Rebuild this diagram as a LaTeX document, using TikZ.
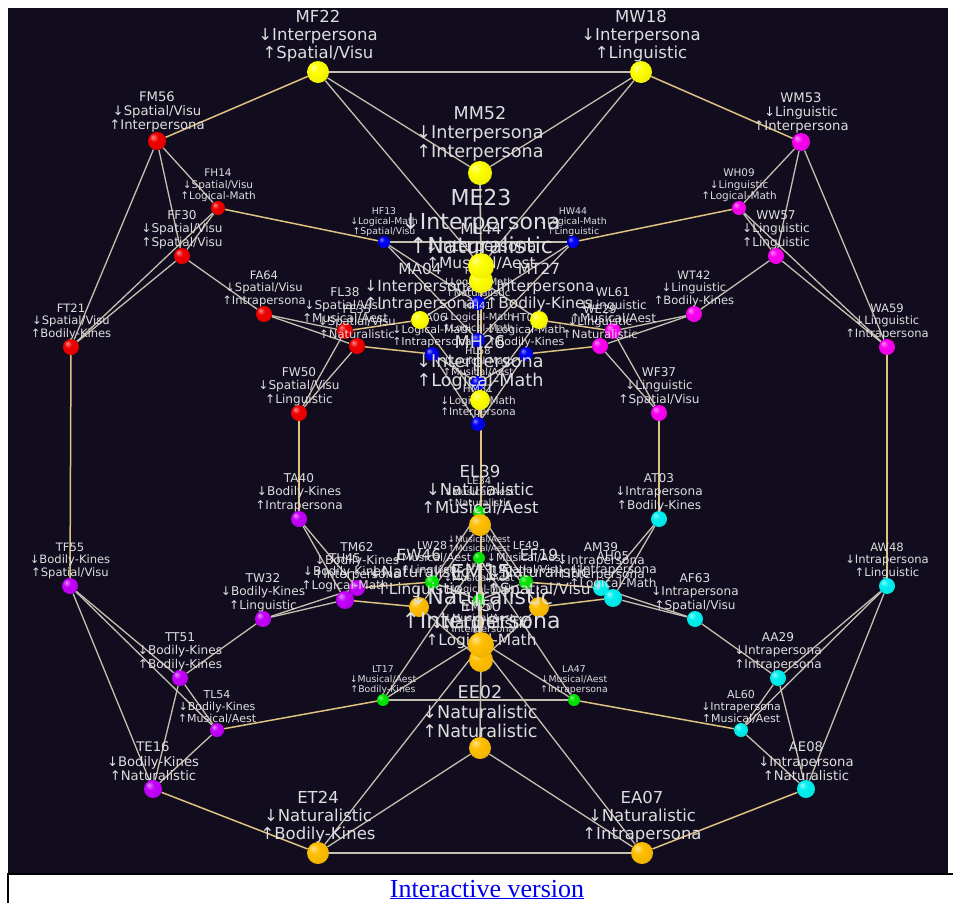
\documentclass[tikz,border=0pt]{standalone}
\usepackage{fontspec}
\setmainfont{DejaVu Sans}
\newfontfamily\linkfont{Liberation Serif}
\usepackage{xcolor}
\usepackage{tikz}

\definecolor{bgc}{RGB}{17,12,30}
\definecolor{gline}{RGB}{196,192,178}
\definecolor{tline}{RGB}{222,194,130}
\definecolor{labc}{RGB}{222,222,222}
\definecolor{linkc}{RGB}{0,0,238}
\definecolor{interc}{RGB}{255,255,0}
\definecolor{spatc}{RGB}{240,0,0}
\definecolor{lingc}{RGB}{250,0,240}
\definecolor{logic}{RGB}{0,0,245}
\definecolor{intrac}{RGB}{0,240,240}
\definecolor{natuc}{RGB}{255,190,0}
\definecolor{bodic}{RGB}{195,0,250}
\definecolor{music}{RGB}{0,230,0}
\colorlet{sphc}{white}
\pgfdeclareradialshading[sphc]{sph}{\pgfpoint{-12bp}{12bp}}{color(0bp)=(sphc!45!white); color(12bp)=(sphc); color(30bp)=(sphc!94!black); color(42bp)=(sphc!82!black); color(50bp)=(sphc!72!black)}
\pgfdeclarelayer{back}
\pgfdeclarelayer{edges}
\pgfsetlayers{back,edges,main}

\begin{document}
\begin{tikzpicture}[x=1pt, y=-1pt,
  ball/.style={circle, inner sep=0pt, minimum size=#1},
  tint/.code={\colorlet{sphc}{#1}\tikzset{shading=sph}},
  inter/.style={tint=interc}, spat/.style={tint=spatc}, ling/.style={tint=lingc}, logi/.style={tint=logic},
  intra/.style={tint=intrac}, natu/.style={tint=natuc}, bodi/.style={tint=bodic}, musi/.style={tint=music},
  lab/.style={font=\fontsize{\dimexpr #1pt*11/10\relax}{\dimexpr #1pt*12/10\relax}\selectfont, text=labc, align=center, inner sep=0pt},
  label distance=-1pt,
  gl/.style={draw=gline, line width=1.3pt},
  tl/.style={draw=tline, line width=1.5pt}]
  \useasboundingbox (0,0) rectangle (953,903);
  \begin{pgfonlayer}{back}
    \fill[white] (0,0) rectangle (953,903);
    \fill[bgc] (8,8) rectangle (948,874);
    \draw[black, line width=1.5pt] (8,903) -- (8,874) -- (953,874);
  \end{pgfonlayer}

  % logical-math (blue)
  \node[ball=12,logi,label={[lab=8.5]above:{HF13\\↓Logical-Math\\↑Spatial/Visu}}] (HF13) at (384,242) {};
  \node[ball=12,logi,label={[lab=8.5]above:{HW44\\↓Logical-Math\\↑Linguistic}}] (HW44) at (573,242) {};
  \node[ball=14,logi,label={[lab=9]above:{HE12\\↓Logical-Math\\↑Naturalistic}}] (HE12) at (478,303) {};
  \node[ball=14,logi,label={[lab=9]above:{HH41\\↓Logical-Math\\↑Logical-Math}}] (HH41) at (478,340) {};
  \node[ball=14,logi,label={[lab=9]above:{HL58\\↓Logical-Math\\↑Musical/Aest}}] (HL58) at (478,383) {};
  \node[ball=14,logi,label={[lab=9.5]above:{HM31\\↓Logical-Math\\↑Interpersona}}] (HM31) at (478,424) {};
  \node[ball=14,logi,label={[lab=10]above:{HA06\\↓Logical-Math\\↑Intrapersona}}] (HA06) at (432,354) {};
  \node[ball=14,logi,label={[lab=10]above:{HT07\\↓Logical-Math\\↑Bodily-Kines}}] (HT07) at (526,354) {};

  % musical (green)
  \node[ball=12,musi,label={[lab=8.5]above:{LT17\\↓Musical/Aest\\↑Bodily-Kines}}] (LT17) at (383,700) {};
  \node[ball=12,musi,label={[lab=8.5]above:{LA47\\↓Musical/Aest\\↑Intrapersona}}] (LA47) at (574,700) {};
  \node[ball=12,musi,label={[lab=9]above:{LE34\\↓Musical/Aest\\↑Naturalistic}}] (LE34) at (479,512) {};
  \node[ball=12,musi,label={[lab=8]above:{LL11\\↓Musical/Aest\\↑Musical/Aest}}] (LL11) at (479,558) {};
  \node[ball=12,musi,label={[lab=9]above:{LH25\\↓Musical/Aest\\↑Logical-Math}}] (LH25) at (479,600) {};
  \node[ball=12,musi,label={[lab=9]above:{LM20\\↓Musical/Aest\\↑Interpersona}}] (LM20) at (479,640) {};
  \node[ball=14,musi,label={[lab=10]above:{LW28\\↓Musical/Aest\\↑Linguistic}}] (LW28) at (432,582) {};
  \node[ball=14,musi,label={[lab=10]above:{LF49\\↓Musical/Aest\\↑Spatial/Visu}}] (LF49) at (526,582) {};

  % spatial (red)
  \node[ball=18,spat,label={[lab=12]above:{FM56\\↓Spatial/Visu\\↑Interpersona}}] (FM56) at (157,141) {};
  \node[ball=14,spat,label={[lab=9.5]above:{FH14\\↓Spatial/Visu\\↑Logical-Math}}] (FH14) at (218,208) {};
  \node[ball=16,spat,label={[lab=11]above:{FF30\\↓Spatial/Visu\\↑Spatial/Visu}}] (FF30) at (182,256) {};
  \node[ball=16,spat,label={[lab=10.5]above:{FT21\\↓Spatial/Visu\\↑Bodily-Kines}}] (FT21) at (71,347) {};
  \node[ball=16,spat,label={[lab=10.5]above:{FA64\\↓Spatial/Visu\\↑Intrapersona}}] (FA64) at (264,314) {};
  \node[ball=16,spat,label={[lab=11]above:{FL38\\↓Spatial/Visu\\↑Musical/Aest}}] (FL38) at (345,331) {};
  \node[ball=16,spat,label={[lab=10.5]above:{FE35\\↓Spatial/Visu\\↑Naturalistic}}] (FE35) at (357,346) {};
  \node[ball=16,spat,label={[lab=11]above:{FW50\\↓Spatial/Visu\\↑Linguistic}}] (FW50) at (299,413) {};

  % linguistic (magenta)
  \node[ball=18,ling,label={[lab=12]above:{WM53\\↓Linguistic\\↑Interpersona}}] (WM53) at (801,142) {};
  \node[ball=14,ling,label={[lab=9.5]above:{WH09\\↓Linguistic\\↑Logical-Math}}] (WH09) at (739,208) {};
  \node[ball=16,ling,label={[lab=11]above:{WW57\\↓Linguistic\\↑Linguistic}}] (WW57) at (776,256) {};
  \node[ball=16,ling,label={[lab=10.5]above:{WA59\\↓Linguistic\\↑Intrapersona}}] (WA59) at (887,347) {};
  \node[ball=16,ling,label={[lab=10.5]above:{WT42\\↓Linguistic\\↑Bodily-Kines}}] (WT42) at (694,314) {};
  \node[ball=16,ling,label={[lab=11]above:{WL61\\↓Linguistic\\↑Musical/Aest}}] (WL61) at (613,331) {};
  \node[ball=16,ling,label={[lab=10.5]above:{WE29\\↓Linguistic\\↑Naturalistic}}] (WE29) at (600,346) {};
  \node[ball=16,ling,label={[lab=11]above:{WF37\\↓Linguistic\\↑Spatial/Visu}}] (WF37) at (659,413) {};

  % bodily (purple)
  \node[ball=16,bodi,label={[lab=10.5]above:{TF55\\↓Bodily-Kines\\↑Spatial/Visu}}] (TF55) at (70,586) {};
  \node[ball=18,bodi,label={[lab=12]above:{TE16\\↓Bodily-Kines\\↑Naturalistic}}] (TE16) at (153,789) {};
  \node[ball=16,bodi,label={[lab=11]above:{TT51\\↓Bodily-Kines\\↑Bodily-Kines}}] (TT51) at (180,678) {};
  \node[ball=14,bodi,label={[lab=10]above:{TL54\\↓Bodily-Kines\\↑Musical/Aest}}] (TL54) at (217,730) {};
  \node[ball=16,bodi,label={[lab=11]above:{TW32\\↓Bodily-Kines\\↑Linguistic}}] (TW32) at (263,619) {};
  \node[ball=16,bodi,label={[lab=11]above:{TM62\\↓Bodily-Kines\\↑Interpersona}}] (TM62) at (357,588) {};
  \node[ball=18,bodi,label={[lab=11]above:{TH45\\↓Bodily-Kines\\↑Logical-Math}}] (TH45) at (345,600) {};
  \node[ball=16,bodi,label={[lab=11]above:{TA40\\↓Bodily-Kines\\↑Intrapersona}}] (TA40) at (299,519) {};

  % intrapersonal (cyan)
  \node[ball=16,intra,label={[lab=10.5]above:{AW48\\↓Intrapersona\\↑Linguistic}}] (AW48) at (887,586) {};
  \node[ball=18,intra,label={[lab=12]above:{AE08\\↓Intrapersona\\↑Naturalistic}}] (AE08) at (806,789) {};
  \node[ball=16,intra,label={[lab=11]above:{AA29\\↓Intrapersona\\↑Intrapersona}}] (AA29) at (778,678) {};
  \node[ball=14,intra,label={[lab=10]above:{AL60\\↓Intrapersona\\↑Musical/Aest}}] (AL60) at (741,730) {};
  \node[ball=16,intra,label={[lab=11]above:{AF63\\↓Intrapersona\\↑Spatial/Visu}}] (AF63) at (695,619) {};
  \node[ball=16,intra,label={[lab=11]above:{AM39\\↓Intrapersona\\↑Interpersona}}] (AM39) at (601,588) {};
  \node[ball=18,intra,label={[lab=11]above:{AH05\\↓Intrapersona\\↑Logical-Math}}] (AH05) at (613,598) {};
  \node[ball=16,intra,label={[lab=11]above:{AT03\\↓Intrapersona\\↑Bodily-Kines}}] (AT03) at (659,519) {};

  % interpersonal (yellow)
  \node[ball=18,inter,label={[lab=14]above:{MA04\\↓Interpersona\\↑Intrapersona}}] (MA04) at (420,320) {};
  \node[ball=18,inter,label={[lab=14]above:{MT27\\↓Interpersona\\↑Bodily-Kines}}] (MT27) at (539,320) {};
  \node[ball=20,inter,label={[lab=16]above:{MH26\\↓Interpersona\\↑Logical-Math}}] (MH26) at (480,400) {};
  \node[ball=24,inter,label={[lab=16]above:{MM52\\↓Interpersona\\↑Interpersona}}] (MM52) at (480,173) {};
  \node[ball=24,inter,label={[lab=14]above:{ML44\\↓Interpersona\\↑Musical/Aest}}] (ML44) at (481,281) {};
  \node[ball=26,inter,label={[lab=20]above:{ME23\\↓Interpersona\\↑Naturalistic}}] (ME23) at (481,266) {};
  \node[ball=22,inter,label={[lab=15]above:{MF22\\↓Interpersona\\↑Spatial/Visu}}] (MF22) at (318,72) {};
  \node[ball=22,inter,label={[lab=15]above:{MW18\\↓Interpersona\\↑Linguistic}}] (MW18) at (641,72) {};

  % naturalistic (orange)
  \node[ball=20,natu,label={[lab=14]above:{EW46\\↓Naturalistic\\↑Linguistic}}] (EW46) at (419,607) {};
  \node[ball=20,natu,label={[lab=14]above:{EF19\\↓Naturalistic\\↑Spatial/Visu}}] (EF19) at (539,607) {};
  \node[ball=22,natu,label={[lab=15]above:{EL39\\↓Naturalistic\\↑Musical/Aest}}] (EL39) at (480,525) {};
  \node[ball=22,natu,label={[lab=16]above:{EE02\\↓Naturalistic\\↑Naturalistic}}] (EE02) at (480,748) {};
  \node[ball=24,natu,label={[lab=14]above:{EH50\\↓Naturalistic\\↑Logical-Math}}] (EH50) at (481,660) {};
  \node[ball=26,natu,label={[lab=20]above:{EM15\\↓Naturalistic\\↑Interpersona}}] (EM15) at (481,645) {};
  \node[ball=22,natu,label={[lab=15]above:{ET24\\↓Naturalistic\\↑Bodily-Kines}}] (ET24) at (318,853) {};
  \node[ball=22,natu,label={[lab=15]above:{EA07\\↓Naturalistic\\↑Intrapersona}}] (EA07) at (642,853) {};

  \begin{pgfonlayer}{edges}
    \foreach \a/\b in {MF22/MW18, MF22/MM52, MW18/MM52, MM52/ME23, MF22/ME23, MW18/ME23, MM52/ML44,
      ML44/MA04, ML44/MT27, MA04/MH26, MT27/MH26,
      FM56/FT21, FM56/FF30, FM56/FH14, FT21/FF30, FT21/FH14, FF30/FH14, FF30/FA64, FA64/FL38, FA64/FE35, FL38/FW50, FE35/FW50,
      WM53/WA59, WM53/WW57, WM53/WH09, WA59/WW57, WA59/WH09, WW57/WH09, WW57/WT42, WT42/WL61, WT42/WE29, WL61/WF37, WE29/WF37,
      HF13/HW44, HF13/HE12, HF13/HH41, HW44/HE12, HW44/HH41, HE12/HH41, HH41/HL58, HL58/HA06, HL58/HT07, HA06/HM31, HT07/HM31,
      LT17/LA47, LT17/LL11, LT17/LM20, LA47/LL11, LA47/LM20, LL11/LM20, LL11/LH25, LH25/LW28, LH25/LF49, LW28/LE34, LF49/LE34,
      ET24/EA07, ET24/EE02, EA07/EE02, EE02/EM15, ET24/EM15, EA07/EM15, EE02/EH50, EH50/EW46, EH50/EF19, EW46/EL39, EF19/EL39,
      TF55/TE16, TF55/TT51, TF55/TL54, TE16/TT51, TE16/TL54, TT51/TL54, TT51/TW32, TW32/TH45, TW32/TM62, TH45/TA40, TM62/TA40,
      AW48/AE08, AW48/AA29, AW48/AL60, AE08/AA29, AE08/AL60, AA29/AL60, AA29/AF63, AF63/AH05, AF63/AM39, AH05/AT03, AM39/AT03}
      \draw[gl] (\a) -- (\b);
    \foreach \a/\b in {MF22/FM56, MW18/WM53, FH14/HF13, WH09/HW44, FT21/TF55, WA59/AW48, FW50/TA40, WF37/AT03,
      TE16/ET24, AE08/EA07, TL54/LT17, AL60/LA47, FL38/MA04, FE35/HA06, WL61/MT27, WE29/HT07,
      TH45/EW46, TM62/LW28, AH05/EF19, AM39/LF49, ME23/EM15, MH26/HM31, EL39/LE34}
      \draw[tl] (\a) -- (\b);
  \end{pgfonlayer}

  \node[anchor=base, text=linkc, font=\linkfont\fontsize{26}{26}\selectfont] (link) at (487,897) {\underline{Interactive version}};
\end{tikzpicture}
\end{document}
